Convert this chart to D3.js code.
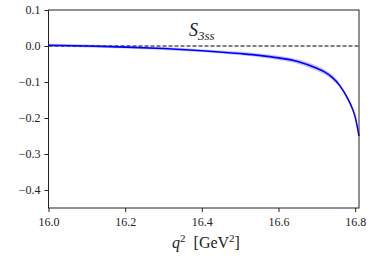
<!DOCTYPE html>
<html>
<head>
<meta charset="utf-8">
<script src="https://cdn.jsdelivr.net/npm/d3@7"></script>
<style>
  body { margin: 0; background: #fff; }
</style>
</head>
<body>
<svg width="374" height="262"></svg>
<script>
// q^2 grid and S_3ss central values
const q2 = [16.00, 16.10, 16.20, 16.30, 16.40, 16.50, 16.55, 16.60, 16.65, 16.70, 16.72, 16.74, 16.76, 16.78, 16.79, 16.80, 16.81];
const s3ss = [0.002, 0.000, -0.003, -0.007, -0.013, -0.021, -0.026, -0.033, -0.043, -0.062, -0.072, -0.087, -0.110, -0.145, -0.167, -0.197, -0.250];
// half-width of the uncertainty band
const errs = [0.004, 0.004, 0.004, 0.004, 0.004, 0.005, 0.005, 0.006, 0.006, 0.007, 0.007, 0.007, 0.006, 0.005, 0.004, 0.003, 0.002];

const xTicks = [16.0, 16.2, 16.4, 16.6, 16.8];
const yTicks = [0.1, 0.0, -0.1, -0.2, -0.3, -0.4];

const serif = "'Liberation Serif', 'DejaVu Serif', serif";
const margin = {left: 48.5, right: 15, top: 10, bottom: 54};
const width = 374, height = 262;

const svg = d3.select("svg");

const x = d3.scaleLinear().domain([16.0, 16.81]).range([margin.left, width - margin.right]);
const y = d3.scaleLinear().domain([-0.45, 0.1]).range([height - margin.bottom, margin.top]);

const pts = q2.map((q, i) => ({q: q, v: s3ss[i], e: errs[i]}));

// band
svg.append("path")
    .datum(pts)
    .attr("fill", "#b8b8ff")
    .attr("opacity", 0.85)
    .attr("d", d3.area()
        .curve(d3.curveMonotoneX)
        .x(d => x(d.q))
        .y0(d => y(d.v - d.e))
        .y1(d => y(d.v + d.e)));

// zero line
svg.append("line")
    .attr("x1", x(16.0)).attr("x2", x(16.81))
    .attr("y1", y(0)).attr("y2", y(0))
    .attr("stroke", "#000")
    .attr("stroke-width", 1.2)
    .attr("stroke-dasharray", "4,2");

// central line
svg.append("path")
    .datum(pts)
    .attr("fill", "none")
    .attr("stroke", "#0000ff")
    .attr("stroke-width", 1.6)
    .attr("d", d3.line()
        .curve(d3.curveMonotoneX)
        .x(d => x(d.q))
        .y(d => y(d.v)));

// axes
const xAxis = svg.append("g")
    .attr("transform", `translate(0,${height - margin.bottom})`)
    .call(d3.axisBottom(x).tickValues(xTicks).tickFormat(d3.format(".1f")).tickSize(4).tickPadding(5));

const yAxis = svg.append("g")
    .attr("transform", `translate(${margin.left},0)`)
    .call(d3.axisLeft(y).tickValues(yTicks).tickFormat(d => d3.format(".1f")(d).replace("-", "\u2212")).tickSize(4).tickPadding(4));

[xAxis, yAxis].forEach(g => {
    g.attr("font-family", serif).attr("font-size", 12);
    g.select(".domain").remove();
    g.selectAll(".tick line").attr("stroke", "#222");
    g.selectAll(".tick text").attr("fill", "#222");
});

// frame
svg.append("rect")
    .attr("x", margin.left).attr("y", margin.top)
    .attr("width", width - margin.right - margin.left)
    .attr("height", height - margin.bottom - margin.top)
    .attr("fill", "none")
    .attr("stroke", "#222")
    .attr("stroke-width", 1);

// title S_3ss
const t = svg.append("text")
    .attr("x", 189).attr("y", 36)
    .attr("font-family", serif)
    .attr("font-size", 18)
    .attr("font-style", "italic")
    .attr("fill", "#222");
t.append("tspan").text("S");
t.append("tspan").attr("font-size", 13).attr("dy", 4).text("3ss");

// x label
const xl = svg.append("text")
    .attr("x", 206).attr("y", 248)
    .attr("text-anchor", "middle")
    .attr("font-family", serif)
    .attr("font-size", 16)
    .attr("fill", "#222");
xl.append("tspan").attr("font-style", "italic").text("q");
xl.append("tspan").attr("font-size", 11).attr("dy", -6).text("2");
xl.append("tspan").attr("dy", 6).text("\u00a0\u00a0[GeV");
xl.append("tspan").attr("font-size", 11).attr("dy", -6).text("2");
xl.append("tspan").attr("dy", 6).text("]");
</script>
</body>
</html>
